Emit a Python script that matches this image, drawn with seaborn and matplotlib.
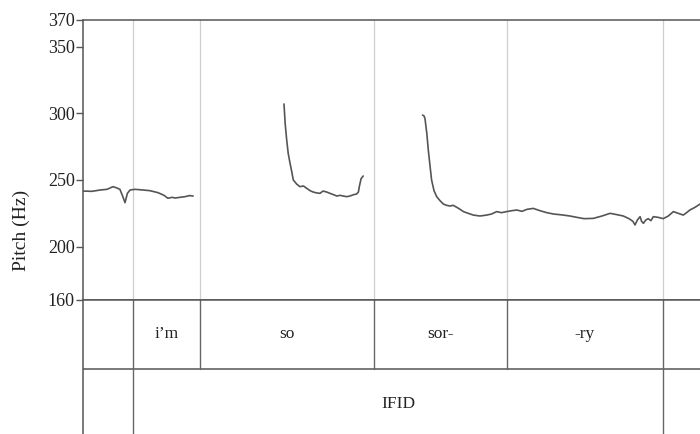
import matplotlib
matplotlib.use("Agg")
import matplotlib.pyplot as plt
import seaborn as sns
import pandas as pd
import numpy as np

# ---------------- data ----------------
# time in seconds
seg1_t = [0.000, 0.030, 0.057, 0.080, 0.100, 0.113, 0.123, 0.132, 0.140, 0.148, 0.157, 0.173, 0.200,
          0.223, 0.250, 0.270, 0.283, 0.297, 0.307, 0.323, 0.340, 0.355, 0.367]
seg1_hz = [241.7, 241.5, 242.5, 243.0, 245.0, 244.0, 243.0, 238.0, 233.0, 240.0, 242.5, 243.0, 242.5,
           242.0, 240.5, 238.5, 236.3, 237.0, 236.5, 237.0, 237.5, 238.3, 238.0]

seg2_t = [0.670, 0.674, 0.679, 0.684, 0.690, 0.696, 0.701, 0.712, 0.723, 0.735, 0.746, 0.757, 0.767,
          0.779, 0.790, 0.800, 0.812, 0.823, 0.835, 0.846, 0.857, 0.867, 0.879, 0.890, 0.902, 0.912,
          0.918, 0.921, 0.927, 0.934]
seg2_hz = [307.0, 292.0, 280.0, 270.0, 262.7, 256.0, 250.0, 247.0, 245.0, 245.5, 243.7, 242.0, 241.0,
           240.3, 240.0, 241.7, 241.0, 240.0, 239.0, 238.0, 238.5, 238.0, 237.5, 238.0, 239.0, 239.5,
           241.0, 245.0, 251.0, 253.0]

seg3_t = [1.132, 1.137, 1.140, 1.146, 1.151, 1.157, 1.162, 1.170, 1.179, 1.190, 1.201, 1.212, 1.223,
          1.234, 1.246, 1.257, 1.268, 1.284, 1.301, 1.323, 1.346, 1.362, 1.379, 1.395, 1.412, 1.430,
          1.446, 1.463, 1.480, 1.501, 1.523, 1.546, 1.568, 1.601, 1.623, 1.646, 1.670, 1.701, 1.730,
          1.757, 1.780, 1.801, 1.820, 1.833, 1.840, 1.848, 1.857, 1.862, 1.868, 1.876, 1.884, 1.893,
          1.901, 1.917, 1.934, 1.951, 1.968, 1.984, 2.001, 2.012, 2.023, 2.040, 2.057]
seg3_hz = [298.7, 298.0, 296.0, 285.0, 272.5, 260.0, 250.0, 242.0, 237.5, 234.5, 232.0, 231.0, 230.5,
           231.0, 229.5, 228.0, 226.3, 225.0, 223.7, 223.0, 223.7, 224.5, 226.3, 225.5, 226.3, 227.0,
           227.5, 226.5, 228.0, 228.7, 227.0, 225.5, 224.5, 223.7, 223.0, 222.0, 221.0, 221.2, 223.0,
           225.0, 224.0, 223.0, 221.0, 219.0, 216.3, 220.0, 222.5, 219.0, 217.5, 220.0, 221.0, 219.5,
           222.5, 222.0, 221.0, 223.0, 226.3, 225.0, 223.7, 225.5, 227.5, 229.5, 232.0]

pitch_ticks = [160, 200, 250, 300, 350, 370]

word_bounds = [0.167, 0.390, 0.970, 1.413, 1.933]
word_labels = ["i\u2019m", "so", "sor-", "-ry"]
ifid_bounds = [0.167, 1.933]
ifid_label = "IFID"

# ---------------- figure ----------------
sns.set_theme(style="white")
plt.rcParams["font.family"] = ["Liberation Serif", "DejaVu Serif"]

W, H = 700, 434
fig = plt.figure(figsize=(W / 100, H / 100), dpi=100)

left_px, right_px = 83, 707
top_px, mid_px, tier_mid_px, bot_px = 20, 300, 369, 440
xmax = (right_px - left_px) / 300.0

def fy(p):
    return 1 - p / H

ax = fig.add_axes([left_px / W, fy(mid_px), (right_px - left_px) / W, fy(top_px) - fy(mid_px)])
axt = fig.add_axes([left_px / W, fy(bot_px), (right_px - left_px) / W, fy(mid_px) - fy(bot_px)])

df = pd.concat([
    pd.DataFrame({"t": seg1_t, "hz": seg1_hz, "seg": 1}),
    pd.DataFrame({"t": seg2_t, "hz": seg2_hz, "seg": 2}),
    pd.DataFrame({"t": seg3_t, "hz": seg3_hz, "seg": 3}),
])

for b in word_bounds:
    ax.axvline(b, color="#cfcfcf", lw=0.9, zorder=1)

sns.lineplot(data=df, x="t", y="hz", units="seg", estimator=None, color="#555555",
             lw=1.2, ax=ax, legend=False, zorder=3)

ax.set_xlim(0, xmax)
ax.set_ylim(160, 370)
ax.set_yticks(pitch_ticks)
ax.set_yticklabels([str(v) for v in pitch_ticks], fontsize=13, color="#222222")
ax.set_xticks([])
ax.set_xlabel("")
ax.set_ylabel("")
ax.tick_params(axis="y", direction="out", length=5, width=1, color="#555555", pad=1, left=True)
for s in ["left", "top", "bottom"]:
    ax.spines[s].set_visible(True)
    ax.spines[s].set_color("#555555")
    ax.spines[s].set_linewidth(1.1)
ax.spines["right"].set_visible(False)
ax.set_facecolor("white")

fig.text(21 / W, fy(230), "Pitch (Hz)", rotation=90, ha="center", va="center",
         fontsize=14, color="#222222")

# tiers
axt.set_xlim(0, xmax)
axt.set_ylim(0, bot_px - mid_px)
axt.invert_yaxis()
axt.set_xticks([])
axt.set_yticks([])
for s in ["left", "top"]:
    axt.spines[s].set_visible(True)
    axt.spines[s].set_color("#555555")
    axt.spines[s].set_linewidth(1.1)
axt.spines["right"].set_visible(False)
axt.spines["bottom"].set_visible(False)
tier_split = tier_mid_px - mid_px
axt.axhline(tier_split, color="#555555", lw=1.1)
for b in word_bounds:
    axt.plot([b, b], [0, tier_split], color="#666666", lw=1.0)
for b in ifid_bounds:
    axt.plot([b, b], [tier_split, bot_px - mid_px], color="#666666", lw=1.0)
for i, lab in enumerate(word_labels):
    xc = (word_bounds[i] + word_bounds[i + 1]) / 2
    axt.text(xc, tier_split / 2, lab, ha="center", va="center", fontsize=12.5, color="#222222")
axt.text((ifid_bounds[0] + ifid_bounds[1]) / 2, tier_split + (434 - tier_mid_px) / 2 + 2, ifid_label,
         ha="center", va="center", fontsize=12.5, color="#222222")

fig.savefig("out.png", dpi=100, facecolor="white")
